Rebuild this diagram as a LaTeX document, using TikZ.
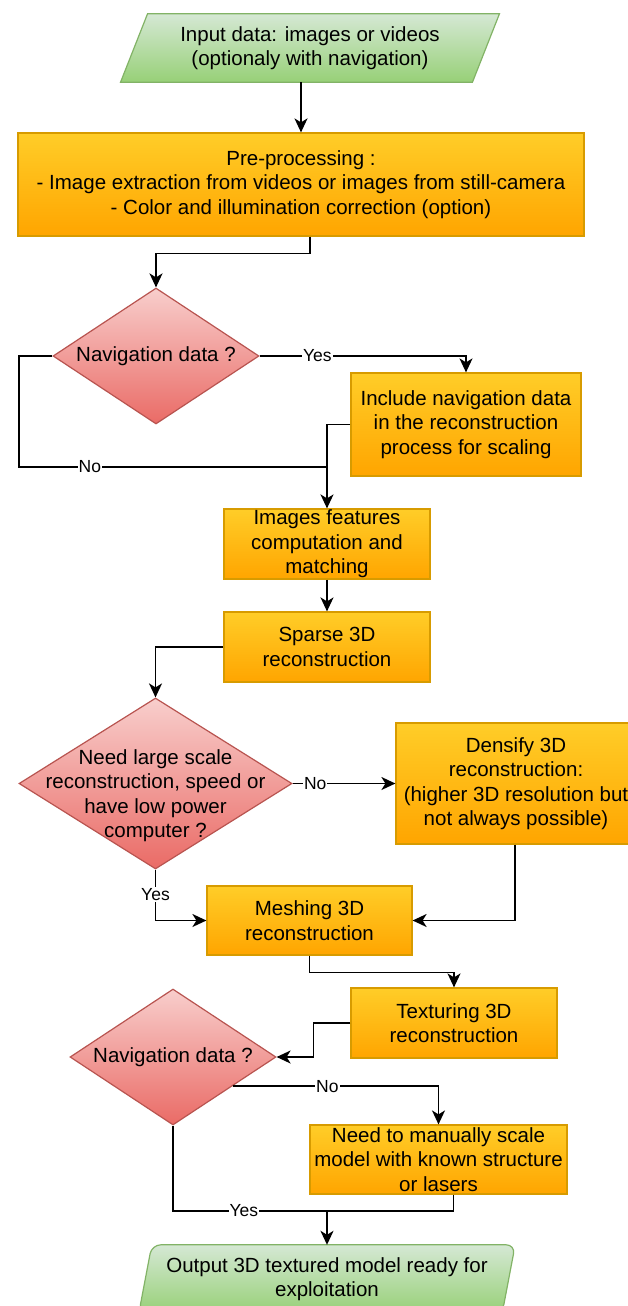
\documentclass[tikz,border=0pt]{standalone}
\usepackage{fontspec}
\setmainfont{Liberation Sans}
\usetikzlibrary{shapes.geometric,arrows.meta,backgrounds}
\definecolor{ortop}{HTML}{FFCD28}
\definecolor{orbot}{HTML}{FFA500}
\definecolor{orline}{HTML}{D79B00}
\definecolor{grtop}{HTML}{D5E8D4}
\definecolor{grbot}{HTML}{97D077}
\definecolor{grline}{HTML}{82B366}
\definecolor{rdtop}{HTML}{F8CECC}
\definecolor{rdbot}{HTML}{EA6B66}
\definecolor{rdline}{HTML}{B85450}
\tikzset{
  txt/.style={align=center, inner sep=0pt, font=\fontsize{20.5}{24.5}\selectfont},
  procbox/.style={txt, draw=orline, line width=1.2pt, top color=ortop, bottom color=orbot},
  decision/.style={diamond, inner sep=0pt, draw=rdline, line width=1.2pt, top color=rdtop, bottom color=rdbot},
  iobox/.style={txt},
  ioshape/.style={draw=grline, line width=1.2pt, top color=grtop, bottom color=grbot},
  conn/.style={line width=1.7pt, black},
  arr/.style={conn, -{Stealth[length=14pt, width=13pt, inset=4pt]}},
  lab/.style={fill=white, inner sep=1pt, font=\fontsize{17.5}{20}\selectfont},
}
\begin{document}
\begin{tikzpicture}[x=1pt, y=-1pt]
\useasboundingbox (0,0) rectangle (627,1306);

% input / output
\node[iobox, minimum width=351.5pt, minimum height=68pt] (input) at (310,48)
  {Input data: images or videos\\(optionaly with navigation)};
\node[iobox, minimum width=363pt, minimum height=68pt] (output) at (327,1279)
  {Output 3D textured model ready for\\exploitation};
\begin{scope}[on background layer]
  \path[ioshape] ([xshift=13.5pt]input.north west) -- ([xshift=13.5pt]input.north east)
    -- ([xshift=-13.5pt]input.south east) -- ([xshift=-13.5pt]input.south west) -- cycle;
  \path[ioshape, rounded corners=9pt] ([xshift=6.5pt]output.north west) -- ([xshift=6.5pt]output.north east)
    -- ([xshift=-6.5pt]output.south east) -- ([xshift=-6.5pt]output.south west) -- cycle;
\end{scope}

% process boxes
\node[procbox, minimum width=566pt, minimum height=103pt] (pre) at (301,184.5)
  {Pre-processing :\\- Image extraction from videos or images from still-camera\\- Color and illumination correction (option)};
\node[procbox, minimum width=230pt, minimum height=103pt] (inc) at (466,424.5)
  {Include navigation data\\in the reconstruction\\process for scaling};
\node[procbox, minimum width=206pt, minimum height=70pt] (img) at (327,544)
  {Images features\\computation and\\matching};
\node[procbox, minimum width=206pt, minimum height=70pt] (sparse) at (327,647)
  {Sparse 3D\\reconstruction};
\node[procbox, minimum width=240pt, minimum height=121pt] (dens) at (516,783.5)
  {Densify 3D\\reconstruction:\\(higher 3D resolution but\\not always possible)};
\node[procbox, minimum width=205pt, minimum height=69pt] (mesh) at (309.5,920.5)
  {Meshing 3D\\reconstruction};
\node[procbox, minimum width=206pt, minimum height=70pt] (tex) at (454,1023)
  {Texturing 3D\\reconstruction};
\node[procbox, minimum width=257pt, minimum height=69pt] (need) at (438.5,1159.5)
  {Need to manually scale\\model with known structure\\or lasers};

% decisions
\node[decision, minimum width=206pt, minimum height=136pt] (d1) at (156,356) {};
\node[txt] (d1t) at (d1) {Navigation data ?};
\node[decision, minimum width=273pt, minimum height=171pt] (d2) at (155.5,783.5) {};
\node[txt] (d2t) at ([yshift=-12pt]d2.center) {Need large scale\\reconstruction, speed or\\have low power\\computer ?};
\node[decision, minimum width=206pt, minimum height=136pt] (d3) at (173,1057) {};
\node[txt] (d3t) at (d3) {Navigation data ?};

% junctions
\coordinate (j1) at (327,467);
\coordinate (j1l) at (19,467);
\coordinate (j2) at (327,1211);

% connectors
\draw[arr] (input.south -| pre.north) -- (pre.north);
\draw[arr] ([xshift=9pt]pre.south) -- ++(0,17) -| (d1.north);
\draw[arr] (d1.east) -| node[lab, pos=0.14] {Yes} (inc.north);
\draw[conn] (d1.west) -| (j1l) -- node[lab, pos=0.23] {No} (j1);
\draw[arr] (inc.west) -| (img.north);
\draw[arr] (img.south) -- (sparse.north);
\draw[arr] (sparse.west) -| (d2.north);
\draw[arr] (d2.east) -- node[lab, pos=0.22] {No} (dens.west);
\draw[arr] (d2.south) |- node[lab, pos=0.245] {Yes} (mesh.west);
\draw[arr] ([xshift=-1pt]dens.south) |- (mesh.east);
\draw[arr] (mesh.south) -- ++(0,17) -| (tex.north);
\draw[arr] (tex.west) -- ++(-37,0) |- (d3.east);
\draw[arr] (d3.-26) -| node[lab, pos=0.23] {No} (need.north);
\draw[arr] (d3.south) |- node[lab, pos=0.73] {Yes} (j2) -- (output.north);
\draw[conn] ([xshift=15pt]need.south) |- (j2);
\end{tikzpicture}
\end{document}
